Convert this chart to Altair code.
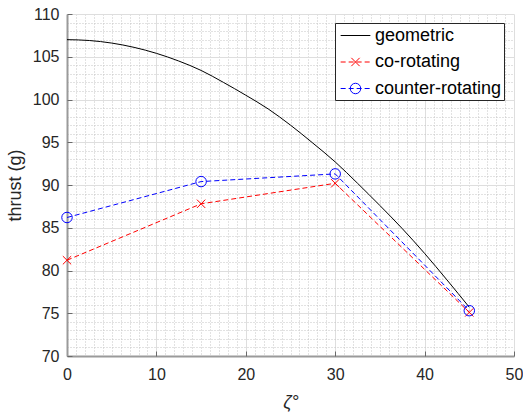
import altair as alt
import pandas as pd

# ---------------- data ----------------
series_names = ["geometric", "co-rotating", "counter-rotating"]

geo_zeta = [0, 2.5, 5, 7.5, 10, 12.5, 15, 17.5, 20, 22.5, 25, 27.5, 30,
            32.5, 35, 37.5, 40, 42.5, 45]
geo_thrust = [107.0, 106.9, 106.6, 106.1, 105.4, 104.5, 103.4, 102.0, 100.5,
              98.9, 97.0, 94.9, 92.7, 90.2, 87.6, 84.9, 82.0, 78.9, 75.7]

meas_zeta = [0, 15, 30, 45]
co_thrust = [81.2, 87.8, 90.2, 75.1]
counter_thrust = [86.2, 90.4, 91.3, 75.3]

x_grid_values = list(range(0, 51))
x_major_values = [0, 10, 20, 30, 40, 50]
y_grid_values = list(range(70, 111))
y_major_values = [70, 75, 80, 85, 90, 95, 100, 105, 110]

geo_df = pd.DataFrame({"zeta": geo_zeta, "thrust": geo_thrust,
                       "series": ["geometric"] * len(geo_zeta)})
meas_df = pd.DataFrame({
    "zeta": meas_zeta + meas_zeta,
    "thrust": co_thrust + counter_thrust,
    "series": ["co-rotating"] * len(meas_zeta) + ["counter-rotating"] * len(meas_zeta),
})

# ---------------- styles ----------------
FONT = "Liberation Sans"
W, H = 447, 342
AXIS_GRAY = "#9a9a9a"
TICK_GRAY = "#6a6a6a"
TEXT = "#262626"
S = 392  # marker symbol size

line_colors = ["#000000", "#ff0000", "#0000ff"]
dash_range = [[1000, 0], [5, 3], [5, 3]]
x_path = "M-0.42,-0.42L0.42,0.42M-0.42,0.42L0.42,-0.42"
o_path = "M0.53,0A0.53,0.53,0,1,1,-0.53,0A0.53,0.53,0,1,1,0.53,0Z"
shape_range = ["M0,0L0,0", x_path, o_path]
marker_colors = ["rgba(0,0,0,0)", "#ff0000", "#0000ff"]
legend_line_path = "M-1.5,0H1.5"

x_scale = alt.Scale(domain=[0, 50], nice=False)
y_scale = alt.Scale(domain=[70, 110], nice=False)

legend_common = dict(orient="none", legendX=268, legendY=9, title=None,
                     padding=2, rowPadding=6.5, labelFont=FONT, labelFontSize=18,
                     labelOffset=9, symbolOffset=8, symbolSize=S,
                     symbolStrokeWidth=1, labelLimit=300)
legend_lines = alt.Legend(symbolType=legend_line_path, strokeColor="#262626",
                          fillColor="white", labelColor="black",
                          symbolFillColor="rgba(0,0,0,0)", **legend_common)
legend_marks = alt.Legend(labelOpacity=0, symbolFillColor="rgba(0,0,0,0)",
                          **legend_common)

x_main_axis = alt.Axis(
    orient="bottom", values=x_grid_values, grid=True, ticks=False,
    labelExpr="datum.value % 10 === 0 ? datum.label : ''",
    labelOverlap=False, labelFlush=False, labelFont=FONT, labelFontSize=16,
    labelColor=TEXT, labelPadding=10,
    domainColor=AXIS_GRAY, domainWidth=2,
    gridColor={"condition": {"test": "datum.value % 10 === 0", "value": "#dedede"},
               "value": "#c4c4c4"},
    gridDash={"condition": {"test": "datum.value % 10 === 0", "value": [1000, 0]},
              "value": [1, 2]},
    gridWidth=1,
    title="ζ°", titleFont=FONT, titleFontSize=18, titleFontStyle="italic",
    titleFontWeight="normal", titleColor=TEXT, titlePadding=11,
)
y_main_axis = alt.Axis(
    orient="left", values=y_grid_values, grid=True, ticks=False,
    labelExpr="datum.value % 5 === 0 ? datum.label : ''",
    labelOverlap=False, labelFlush=False, labelFont=FONT, labelFontSize=16,
    labelColor=TEXT, labelPadding=8,
    domainColor=AXIS_GRAY, domainWidth=2,
    gridColor={"condition": {"test": "datum.value % 5 === 0", "value": "#dedede"},
               "value": "#c4c4c4"},
    gridDash={"condition": {"test": "datum.value % 5 === 0", "value": [1000, 0]},
              "value": [1, 2]},
    gridWidth=1,
    title="thrust (g)", titleFont=FONT, titleFontSize=18,
    titleFontWeight="normal", titleColor=TEXT, titlePadding=8,
)
x_tick_axis = alt.Axis(orient="top", offset=-H, values=x_major_values,
                       labels=False, domain=False, grid=False, ticks=True,
                       tickSize=5, tickColor=TICK_GRAY, tickWidth=1, title=None)
y_tick_axis = alt.Axis(orient="right", offset=-W, values=y_major_values,
                       labels=False, domain=False, grid=False, ticks=True,
                       tickSize=5, tickColor=TICK_GRAY, tickWidth=1, title=None)

color_lines = alt.Color("series:N", scale=alt.Scale(domain=series_names, range=line_colors),
                        legend=legend_lines)
dash_lines = alt.StrokeDash("series:N", scale=alt.Scale(domain=series_names, range=dash_range),
                            legend=legend_lines)

geo = alt.Chart(geo_df).mark_line(strokeWidth=1, interpolate="monotone").encode(
    x=alt.X("zeta:Q", scale=x_scale, axis=x_main_axis),
    y=alt.Y("thrust:Q", scale=y_scale, axis=y_main_axis),
    color=color_lines,
    strokeDash=dash_lines,
)

dashed = alt.Chart(meas_df).mark_line(strokeWidth=1).encode(
    x=alt.X("zeta:Q", scale=x_scale, axis=x_tick_axis),
    y=alt.Y("thrust:Q", scale=y_scale, axis=y_tick_axis),
    color=color_lines,
    strokeDash=dash_lines,
)

inner = alt.layer(geo, dashed).resolve_axis(x="independent", y="independent")

points = alt.Chart(meas_df).mark_point(filled=False, size=S, strokeWidth=1,
                                       opacity=1).encode(
    x=alt.X("zeta:Q", scale=x_scale, axis=None),
    y=alt.Y("thrust:Q", scale=y_scale, axis=None),
    color=alt.Color("series:N", scale=alt.Scale(domain=series_names, range=marker_colors),
                    legend=legend_marks),
    shape=alt.Shape("series:N", scale=alt.Scale(domain=series_names, range=shape_range),
                    legend=legend_marks),
)

chart = alt.layer(inner, points).resolve_scale(
    color="independent", shape="independent", strokeDash="independent"
).resolve_legend(
    color="independent", shape="independent", strokeDash="independent"
).resolve_axis(
    x="independent", y="independent"
).properties(
    width=W, height=H,
    padding={"left": 67, "top": 14, "right": 9, "bottom": 62},
    autosize=alt.AutoSizeParams(type="none"),
    background="white",
).configure_view(stroke=None)

chart.save("out.html", embed_options={"renderer": "svg", "actions": False})
